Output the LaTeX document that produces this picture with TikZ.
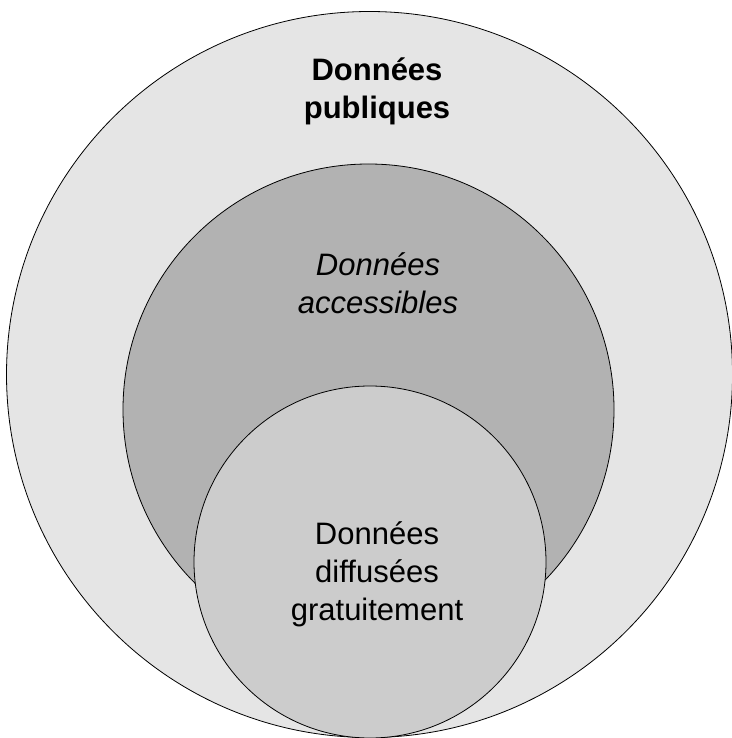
\documentclass[tikz,border=0pt]{standalone}
\usepackage{fontspec}
\setmainfont{Liberation Sans}
\usepackage{tikz}
\tikzset{disc/.style={draw, circle, inner sep=0pt, line width=0.8pt}}
\tikzset{t/.style={font=\fontsize{31}{38}\selectfont, align=center, anchor=base}}

\begin{document}
\begin{tikzpicture}[x=1pt, y=-1pt]
        \useasboundingbox (0,0) rectangle (731,738);
        \node [disc, fill=black!10, minimum size=726pt] (pub) at (369.5,374.5) {};
        \node [disc, fill=black!30, minimum size=491pt] (acc) at (368.5,409.5) {};
        \node [disc, fill=black!20, minimum size=352pt] (grat) at (370,562) {};
        \node [t] (pubtxt) at (377,119) {\textbf{Données}\\\textbf{publiques}};
        \node [t] (acctxt) at (378,313) {\textit{Données}\\\textit{accessibles}};
        \node [t] (grattxt) at (377,620) {Données\\diffusées\\gratuitement};
      \end{tikzpicture}
\end{document}
